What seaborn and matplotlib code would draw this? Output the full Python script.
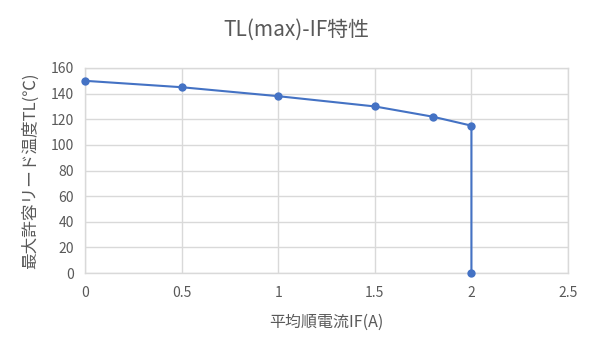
import pandas as pd
import matplotlib
matplotlib.use("Agg")
import matplotlib.pyplot as plt
import seaborn as sns

current_a = [0, 0.5, 1.0, 1.5, 1.8, 2.0, 2.0]
lead_temp_c = [150, 145, 138, 130, 122, 115, 0]
x_ticks = [0, 0.5, 1, 1.5, 2, 2.5]
y_ticks = [0, 20, 40, 60, 80, 100, 120, 140, 160]

df = pd.DataFrame({"IF": current_a, "TL": lead_temp_c})

sns.set_style("white")
plt.rcParams['font.family'] = ['Noto Sans CJK JP', 'DejaVu Sans']

txt = "#595959"
grid = "#d9d9d9"
blue = "#4472C4"

fig = plt.figure(figsize=(5.92, 3.56), dpi=100)
ax = fig.add_axes([0.1436, 0.2331, 0.8159, 0.5759])

sns.lineplot(data=df, x="IF", y="TL", sort=False, estimator=None, ax=ax,
             color=blue, linewidth=1.5, marker="o", markersize=6,
             markeredgewidth=0, zorder=3, clip_on=False)

ax.set_xlim(0, 2.5)
ax.set_ylim(0, 160)
ax.set_xticks(x_ticks)
ax.set_xticklabels([str(t) for t in x_ticks])
ax.set_yticks(y_ticks)
ax.grid(True, color=grid, linewidth=1)
ax.set_axisbelow(True)
for s in ax.spines.values():
    s.set_color(grid)
    s.set_linewidth(1)
ax.tick_params(length=0, colors=txt, labelsize=10)
ax.tick_params(axis="x", pad=9)
ax.tick_params(axis="y", pad=8)

ax.set_xlabel("平均順電流IF(A)", color=txt, fontsize=11.5, va="center")
ax.xaxis.set_label_coords(0.5, -0.239)
ax.set_ylabel("最大許容リード温度TL(℃)", color=txt, fontsize=12, va="center")
ax.yaxis.set_label_coords(-0.114, 0.5)
fig.text(0.5, 1 - 30 / 356, "TL(max)-IF特性", color=txt, fontsize=15,
         ha="center", va="center")

fig.savefig("out.png", dpi=100)
